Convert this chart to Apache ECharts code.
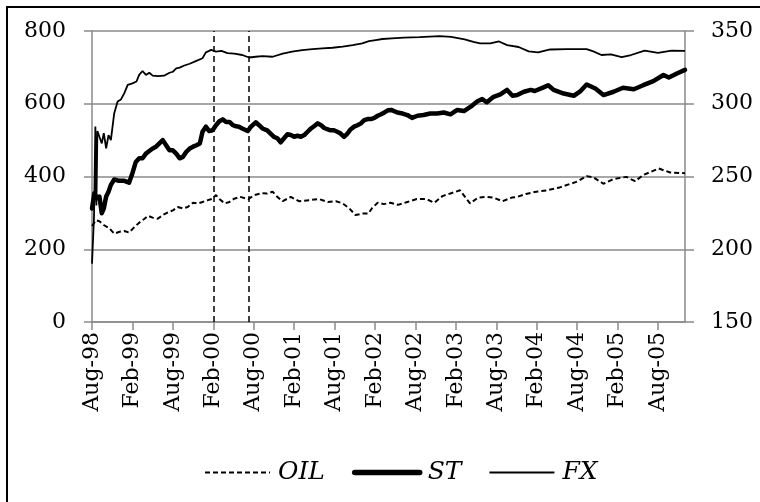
<!DOCTYPE html>
<html><head><meta charset="utf-8">
<script src="https://cdn.jsdelivr.net/npm/echarts@6/dist/echarts.min.js"></script>
<style>html,body{margin:0;padding:0;background:#fff}#c{width:760px;height:502px}</style>
</head><body><div id="c"></div><script>
// x positions are months since Aug-98
const tickLabels = ['Aug-98','Feb-99','Aug-99','Feb-00','Aug-00','Feb-01','Aug-01','Feb-02','Aug-02','Feb-03','Aug-03','Feb-04','Aug-04','Feb-05','Aug-05'];
const tickMonths = [0,6,12,18,24,30,36,42,48,54,60,66,72,78,84];
const eventMonths = [18, 23.2];

const oilMonths = [0,0.6,1.1,1.8,2.6,3.3,4.1,4.8,5.5,6.3,
  7.0,7.8,8.3,9.0,9.75,10.5,11.2,12.0,12.7,13.5,
  14.2,15.0,15.7,16.4,17.2,17.9,18.4,18.9,19.7,20.4,
  21.1,22.0,23.2,24.1,25.1,26.0,26.8,27.5,28.3,29.5,
  30.7,32.2,33.7,35.0,36.2,37.2,38.2,39.1,40.1,41.0,
  41.6,42.4,43.3,44.3,45.4,46.8,48.2,49.6,50.8,52.0,
  53.3,54.6,56.1,57.3,58.6,59.6,60.9,62.3,63.1,64.4,
  65.9,67.5,69.4,72.0,73.4,74.4,75.9,77.4,79.3,80.6,
  81.8,84.1,85.8,88.0];
const oilValues = [264,280,277,266,257,243,248,250,246,261,
  273,284,292,287,284,294,301,307,316,312,
  316,328,326,330,335,339,349,338,326,330,
  339,344,338,349,354,353,358,344,332,344,
  332,335,338,330,332,326,312,294,298,298,
  314,328,324,328,322,330,338,338,328,346,
  354,362,326,342,344,342,332,342,344,352,
  358,362,370,386,401,398,380,393,399,387,
  404,422,411,409];

const stMonths = [0,0.35,0.75,1.1,1.45,1.75,2.1,2.45,2.8,3.3,
  4.0,4.8,5.5,6.0,6.5,7.0,7.5,8.0,8.5,9.0,
  9.5,10.0,10.5,11.0,11.5,12.0,12.5,13.0,13.5,14.0,
  14.5,15.0,15.5,16.0,16.4,16.9,17.4,17.9,18.4,18.9,
  19.4,19.9,20.4,20.9,21.4,21.8,22.3,23.1,23.6,24.3,
  24.8,25.3,26.0,26.5,27.0,27.5,28.0,28.5,29.0,29.5,
  30.0,30.5,31.0,31.5,32.0,32.5,33.0,33.5,34.0,34.4,
  34.9,35.4,35.9,36.4,36.9,37.4,37.9,38.4,38.9,39.4,
  39.9,40.4,40.9,41.4,41.9,42.4,42.9,43.4,43.9,44.4,
  45.3,46.1,46.8,47.5,48.3,49.2,50.2,51.2,52.2,53.2,
  54.2,55.2,56.2,57.2,57.9,58.6,59.6,60.6,61.6,62.4,
  63.1,64.1,65.1,65.7,67.0,67.7,68.5,70.0,71.5,72.4,
  73.4,74.7,75.9,77.4,78.8,80.4,81.8,83.3,84.8,85.6,
  86.8,88.0];
const stValues = [312,354,340,345,299,312,345,358,377,392,
  388,388,383,409,440,450,450,463,470,477,
  482,491,500,486,472,472,463,450,454,468,
  477,482,486,491,523,537,525,527,541,552,
  557,550,550,541,538,537,532,525,537,549,
  541,532,527,518,509,505,494,505,516,514,
  509,512,509,514,523,532,539,546,541,534,
  530,527,527,523,518,509,518,530,537,541,
  546,555,558,558,561,567,571,576,582,583,
  576,573,569,561,567,569,573,573,576,571,
  583,580,592,607,613,604,619,626,638,622,
  624,633,638,635,645,651,638,628,622,633,
  653,642,624,633,644,640,651,662,679,672,
  683,693];

// FX is read against the right-hand axis
const fxMonths = [0,0.3,0.5,0.65,0.8,1.1,1.45,1.75,2.1,2.45,
  2.8,3.3,3.8,4.3,4.8,5.3,6.0,6.6,7.0,7.5,
  8.0,8.5,9.0,9.75,10.7,11.5,12.0,12.5,13.0,13.7,
  14.5,15.4,16.4,16.9,17.7,18.4,19.2,20.1,21.1,22.3,
  23.3,24.3,25.3,26.8,28.3,29.7,31.2,32.7,34.2,35.7,
  37.2,38.7,40.1,41.1,42.1,43.1,44.5,46.3,48.6,51.6,
  53.3,55.3,56.6,57.6,59.1,60.4,61.6,63.3,64.8,66.2,
  68.0,70.5,73.4,74.4,75.6,77.0,78.6,80.0,82.0,84.0,
  86.0,88.0];
const fxValues = [190,222.5,284.3,230,281.3,277.3,272.8,279.8,269.3,278.5,
  275,293.5,301.5,303,307.3,313,314,315.3,319.8,322.5,
  319.8,321.3,319.3,319,319.3,321.3,322,324.3,324.8,326.3,
  327.5,329.3,331.3,335.3,337,335.8,336.3,334.8,334.5,333.5,
  331.8,332.3,332.8,332.3,334.5,335.8,336.8,337.5,338,338.5,
  339.3,340.3,341.5,343,343.8,344.5,345,345.5,345.8,346.5,
  346,344.3,342.5,341.5,341.5,342.8,340.3,339,336,335.3,
  337.3,337.5,337.5,336,333.5,334,332,333.5,336.5,335,
  336.5,336.3];

const pair = (ms, vs) => ms.map((m, i) => [m, vs[i]]);
const FONT = 'DejaVu Serif';
const GRAY = '#8a8a8a';
const oilLine = {color: '#000', width: 2, type: [5, 3]};
const stLine = {color: '#000', width: 4.5, join: 'round', cap: 'round'};
const fxLine = {color: '#000', width: 1.8};

const chart = echarts.init(document.getElementById('c'), null, {renderer: 'canvas'});
chart.setOption({
  animation: false,
  backgroundColor: '#fff',
  graphic: [{type: 'rect', shape: {x: 7, y: 7, width: 800, height: 600}, style: {fill: 'none', stroke: '#000', lineWidth: 2}, silent: true}],
  grid: {left: 92, right: 75, top: 31, bottom: 180},
  legend: {
    data: [
      {name: 'OIL', lineStyle: oilLine},
      {name: 'ST', lineStyle: {color: '#000', width: 5.5, cap: 'round'}},
      {name: 'FX', lineStyle: fxLine}
    ],
    left: 199, top: 455, itemWidth: 65, itemHeight: 14, itemGap: 27,
    itemStyle: {color: 'rgba(0,0,0,0)', borderWidth: 0, opacity: 0},
    textStyle: {fontFamily: FONT, fontStyle: 'italic', fontSize: 25, color: '#000', padding: [0, 0, 0, 3]}
  },
  xAxis: {
    type: 'value', min: 0, max: 88,
    axisLine: {show: true, onZero: false, lineStyle: {color: GRAY, width: 1.5}},
    axisTick: {show: true, length: 8, customValues: tickMonths, lineStyle: {color: GRAY, width: 1.5}},
    axisLabel: {customValues: tickMonths, rotate: 90, margin: 10, fontFamily: FONT, fontSize: 22, color: '#000',
      formatter: v => tickLabels[Math.round(v / 6)] || ''},
    splitLine: {show: false}
  },
  yAxis: [{
    type: 'value', min: 0, max: 800, interval: 200,
    axisLine: {show: true, lineStyle: {color: GRAY, width: 1.5}},
    axisTick: {show: true, length: 8, lineStyle: {color: GRAY, width: 1.5}},
    axisLabel: {margin: 26, fontFamily: FONT, fontSize: 22, color: '#000'},
    splitLine: {show: true, lineStyle: {color: GRAY, width: 1.5}}
  }, {
    type: 'value', min: 150, max: 350, interval: 50, position: 'right',
    axisLine: {show: true, lineStyle: {color: GRAY, width: 1.5}},
    axisTick: {show: true, length: 9, lineStyle: {color: GRAY, width: 1.5}},
    axisLabel: {margin: 26, fontFamily: FONT, fontSize: 22, color: '#000'},
    splitLine: {show: false}
  }],
  series: [{
    name: 'OIL', type: 'line', yAxisIndex: 0, symbol: 'none', showSymbol: false,
    data: pair(oilMonths, oilValues),
    lineStyle: oilLine, itemStyle: {color: '#000'}
  }, {
    name: 'ST', type: 'line', yAxisIndex: 0, symbol: 'none', showSymbol: false,
    data: pair(stMonths, stValues),
    lineStyle: stLine, itemStyle: {color: '#000'},
    markLine: {
      silent: true, symbol: ['none', 'none'], label: {show: false},
      lineStyle: {color: '#000', width: 1.5, type: [6, 4]},
      data: eventMonths.map(m => ({xAxis: m}))
    }
  }, {
    name: 'FX', type: 'line', yAxisIndex: 1, symbol: 'none', showSymbol: false,
    data: pair(fxMonths, fxValues),
    lineStyle: fxLine, itemStyle: {color: '#000'}
  }]
});
</script></body></html>
